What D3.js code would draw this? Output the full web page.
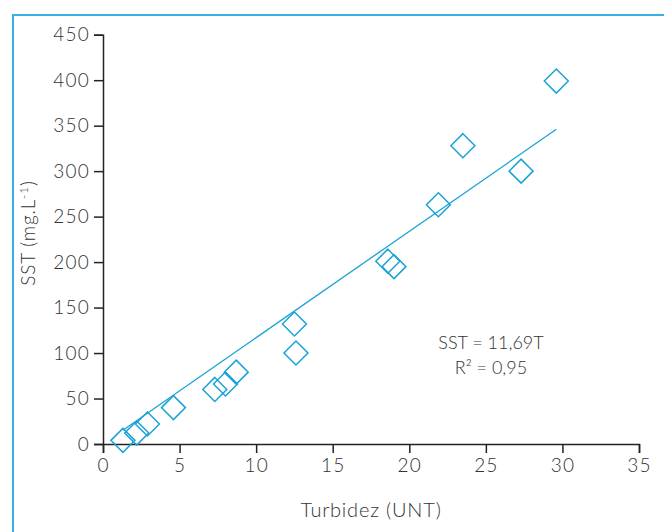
<!DOCTYPE html>
<meta charset="utf-8">
<style>
body { margin: 0; background: #fff; }
text { font-family: "Lato", "Open Sans", sans-serif; font-weight: 300; fill: #333; }
</style>
<body>
<script src="https://d3js.org/d3.v7.min.js"></script>
<script>

// data
var turbidity = [1.3, 2.2, 2.9, 4.6, 7.3, 8.0, 8.7, 12.5, 12.6, 18.6, 19.0, 21.9, 23.5, 27.3, 29.6];
var sst       = [4, 12, 22, 40, 60, 66, 79, 132, 100, 201, 195, 263, 328, 300, 399];
var xTicks = [0, 5, 10, 15, 20, 25, 30, 35];
var yTicks = [0, 50, 100, 150, 200, 250, 300, 350, 400, 450];
var slope = 11.69;
var eqLabels = ["SST = 11,69T", "R\u00b2 = 0,95"];

var W = 664, H = 532;
var margin = {top: 34.7, left: 103, right: 25, bottom: 88};
var blue = "#1aa3d6";

var svg = d3.select("body").append("svg")
  .attr("width", W)
  .attr("height", H);

// light blue frame (left + top edges)
svg.append("path")
  .attr("d", "M13," + H + " V15 H" + W)
  .attr("fill", "none")
  .attr("stroke", "#3ab0e0")
  .attr("stroke-width", 2);

var x = d3.scaleLinear().domain([0, 35]).range([margin.left, W - margin.right]);
var y = d3.scaleLinear().domain([0, 450]).range([H - margin.bottom, margin.top]);

var xAxis = svg.append("g")
  .attr("transform", "translate(0," + y(0) + ")")
  .call(d3.axisBottom(x).tickValues(xTicks).tickSize(9).tickPadding(6));
var yAxis = svg.append("g")
  .attr("transform", "translate(" + x(0) + ",0)")
  .call(d3.axisLeft(y).tickValues(yTicks).tickSize(9).tickPadding(4));

[xAxis, yAxis].forEach(function(g) {
  g.selectAll("path, line").attr("stroke", "#222").attr("stroke-width", 1.5);
  g.selectAll("text")
    .attr("font-size", 19)
    .attr("letter-spacing", 1.2)
    .attr("font-family", null)
    .style("fill", "#333");
});

// regression line through the origin
var xr = d3.extent(turbidity);
svg.append("line")
  .attr("x1", x(xr[0])).attr("y1", y(slope * xr[0]))
  .attr("x2", x(xr[1])).attr("y2", y(slope * xr[1]))
  .attr("stroke", blue)
  .attr("stroke-width", 1.3);

// diamonds
var pts = turbidity.map(function(t, i) { return {t: t, s: sst[i]}; });
var r = 12;
svg.selectAll("myDiamonds")
  .data(pts)
  .enter()
  .append("path")
    .attr("d", function(d) {
      var cx = x(d.t), cy = y(d.s);
      return "M" + cx + "," + (cy - r) + " L" + (cx + r) + "," + cy +
             " L" + cx + "," + (cy + r) + " L" + (cx - r) + "," + cy + "Z";
    })
    .attr("fill", "none")
    .attr("stroke", blue)
    .attr("stroke-width", 1.5);

// equation
svg.selectAll("eq")
  .data(eqLabels)
  .enter()
  .append("text")
    .attr("x", 491)
    .attr("y", function(d, i) { return 349 + i * 25; })
    .attr("text-anchor", "middle")
    .attr("font-size", 18)
    .text(function(d) { return d; });

// axis titles
svg.append("text")
  .attr("x", (x(0) + x(35)) / 2)
  .attr("y", 517)
  .attr("text-anchor", "middle")
  .attr("font-size", 20)
  .attr("letter-spacing", 0.8)
  .text("Turbidez (UNT)");

svg.append("text")
  .attr("transform", "translate(35," + 233 + ") rotate(-90)")
  .attr("text-anchor", "middle")
  .attr("font-size", 19)
  .attr("letter-spacing", 0.8)
  .html("SST (mg.L<tspan dy='-7' font-size='12'>-1</tspan><tspan dy='7'>)</tspan>");

</script>
</body>
